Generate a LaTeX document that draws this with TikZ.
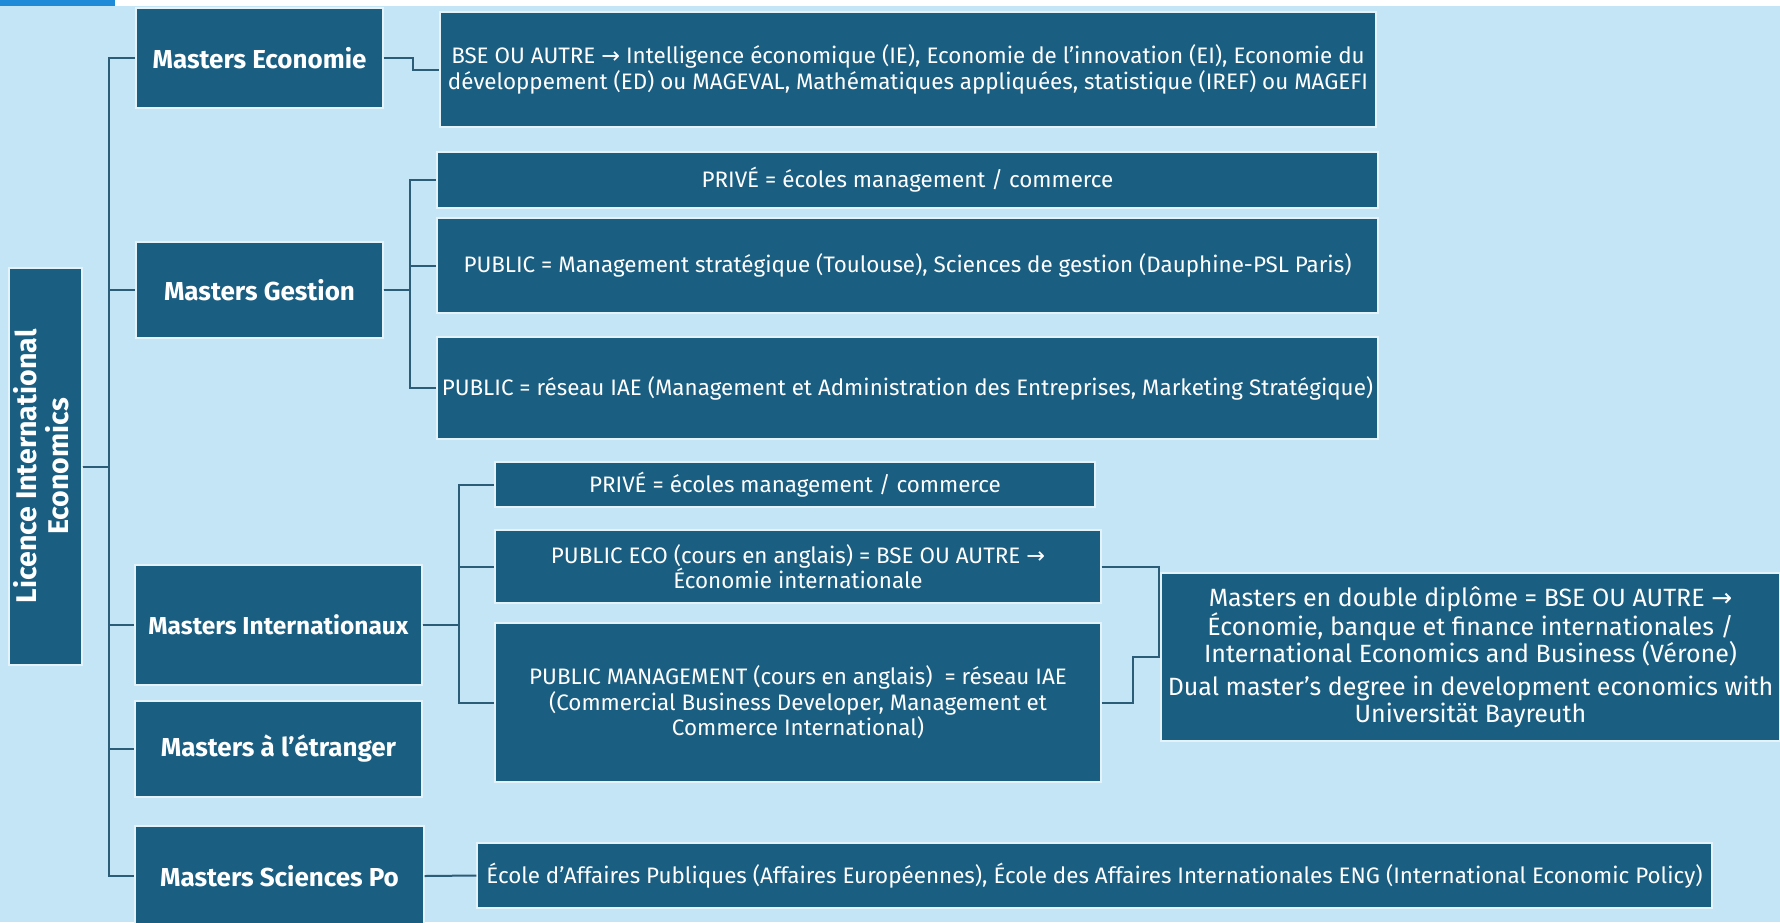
\documentclass[tikz,border=0pt]{standalone}
\usepackage{fontspec}
\setmainfont{Fira Sans}
\newfontfamily\dejavu{DejaVu Sans}
\newcommand{\arr}{{\dejavu →}}
\definecolor{bgblue}{HTML}{C4E5F5}
\definecolor{boxblue}{HTML}{1A5E81}
\definecolor{linecol}{HTML}{2B5C78}
\definecolor{topblue}{HTML}{1E8AD8}
\tikzset{
  box/.style={rectangle, fill=boxblue, draw=white!55!bgblue, line width=1.2pt,
    text=white, inner sep=0pt, align=center},
  lbl/.style={box, font=\fontsize{26}{31}\selectfont\bfseries},
  det/.style={box, font=\fontsize{22.4}{25.5}\selectfont},
  conn/.style={draw=linecol, line width=2pt}
}
\begin{document}
\begin{tikzpicture}[x=1pt,y=-1pt]
\useasboundingbox (0,0) rectangle (1780,922);
\fill[bgblue] (0,0) rectangle (1780,922);
\fill[white] (0,0) rectangle (1780,6);
\fill[topblue] (0,0) rectangle (115,6);

% main nodes
\node[lbl, minimum width=73, minimum height=397, font=\fontsize{28.5}{34}\selectfont\bfseries] (lic) at (45.5,466.5)
  {\rotatebox{90}{\begin{tabular}{@{}c@{}}Licence International\\[-2pt] Economics\end{tabular}}};
\node[lbl, minimum width=247, minimum height=100] (eco) at (259.5,58) {Masters Economie};
\node[lbl, minimum width=247, minimum height=96] (ges) at (259.5,290) {Masters Gestion};
\node[lbl, minimum width=287, minimum height=120, font=\fontsize{24.5}{30}\selectfont\bfseries] (int) at (278.5,625) {Masters Internationaux};
\node[lbl, minimum width=287, minimum height=96] (etr) at (278.5,749) {Masters à l'étranger};
\node[lbl, minimum width=289, minimum height=100] (scp) at (279.5,876) {Masters Sciences Po};

% detail nodes
\node[det, minimum width=936, minimum height=115] (ecod) at (908,69.5)
  {BSE OU AUTRE \arr{} Intelligence économique (IE), Economie de l'innovation (EI), Economie du\\
   développement (ED) ou MAGEVAL, Mathématiques appliquées, statistique (IREF) ou MAGEFI};
\node[det, minimum width=941, minimum height=56] (gpriv) at (907.5,180)
  {PRIVÉ = écoles management / commerce};
\node[det, minimum width=941, minimum height=95] (gpub1) at (907.5,265.5)
  {PUBLIC = Management stratégique (Toulouse), Sciences de gestion (Dauphine-PSL Paris)};
\node[det, minimum width=941, minimum height=102] (gpub2) at (907.5,388)
  {PUBLIC = réseau IAE (Management et Administration des Entreprises, Marketing Stratégique)};
\node[det, minimum width=600, minimum height=45] (ipriv) at (795,484.5)
  {PRIVÉ = écoles management / commerce};
\node[det, minimum width=606, minimum height=73] (ieco) at (798,566.5)
  {PUBLIC ECO (cours en anglais) = BSE OU AUTRE \arr\\ Économie internationale};
\node[det, minimum width=606, minimum height=159] (imgt) at (798,702.5)
  {PUBLIC MANAGEMENT (cours en anglais) \ = réseau IAE\\
   (Commercial Business Developer, Management et\\ Commerce International)};
\node[det, minimum width=619, minimum height=168, font=\fontsize{25}{26.5}\selectfont] (dd) at (1470.5,657)
  {Masters en double diplôme = BSE OU AUTRE \arr\\
   Économie, banque et finance internationales /\\
   International Economics and Business (Vérone)\\[7pt]
   Dual master’s degree in development economics with\\
   Universität Bayreuth};
\node[det, minimum width=1235, minimum height=65] (scpd) at (1094.5,875.5)
  {École d'Affaires Publiques (Affaires Européennes), École des Affaires Internationales ENG (International Economic Policy)};

% connectors
\foreach \c in {eco,ges,int,etr,scp}
  \draw[conn] (lic.east) -- ++(26,0) |- (\c.west);
\draw[conn] (eco.east) -- ++(29,0) |- (ecod.west);
\foreach \c in {gpriv,gpub1,gpub2}
  \draw[conn] (ges.east) -- ++(26,0) |- (\c.west);
\foreach \c in {ipriv,ieco,imgt}
  \draw[conn] (int.east) -- ++(36,0) |- (\c.west);
\draw[conn] (ieco.east) -- ++(57,0) |- (dd.west);
\draw[conn] (imgt.east) -- ++(31,0) |- (dd.west);
\draw[conn] (scp.east) -- (scpd.west);
\end{tikzpicture}
\end{document}
